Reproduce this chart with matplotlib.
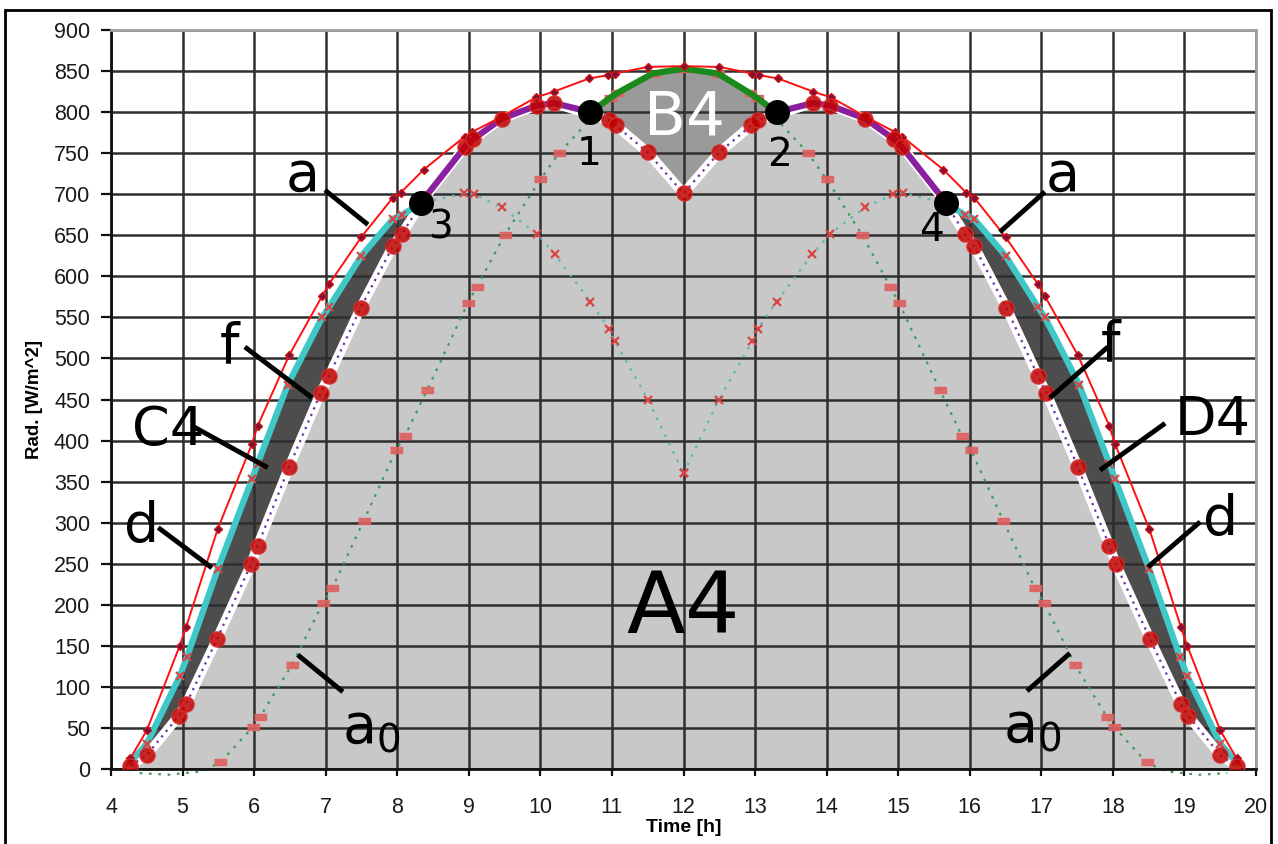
import numpy as np
import matplotlib
matplotlib.use('Agg')
import matplotlib.pyplot as plt
from matplotlib.patches import Rectangle

# ---------------- data ----------------
# outer clear-sky curve "a" (red, diamonds)
t_a = [4.27, 4.5, 4.96, 5.05, 5.49, 5.97, 6.05, 6.49, 6.95, 7.05, 7.5, 7.94, 8.05, 8.37,
       8.94, 9.05, 9.47, 9.94, 10.19, 10.68, 10.95, 11.04, 11.5, 12.0, 12.5, 12.96, 13.05,
       13.32, 13.81, 14.06, 14.53, 14.95, 15.06, 15.63, 15.95, 16.06, 16.5, 16.95, 17.05,
       17.51, 17.95, 18.03, 18.51, 18.95, 19.04, 19.5, 19.73]
rad_a = [13, 47, 150, 173, 292, 396, 418, 504, 576, 591, 648, 696, 702, 730,
         770, 776, 795, 818, 825, 841, 845, 847, 855, 856, 855, 847, 845,
         841, 825, 818, 795, 776, 770, 730, 702, 696, 648, 591, 576,
         504, 418, 396, 292, 173, 150, 47, 13]

# curve "f" (white band, purple dots, big red dots)
t_f = [4.27, 4.5, 4.95, 5.05, 5.48, 5.96, 6.05, 6.49, 6.93, 7.05, 7.49, 7.94, 8.07, 8.37,
       8.94, 9.06, 9.46, 9.95, 10.19, 10.96, 11.05, 11.5, 12.0, 12.5, 12.95, 13.04, 13.81,
       14.05, 14.54, 14.94, 15.06, 15.63, 15.93, 16.06, 16.51, 16.95, 17.07, 17.51, 17.95,
       18.04, 18.52, 18.95, 19.05, 19.5, 19.73]
rad_f = [4, 17, 65, 79, 158, 250, 272, 368, 458, 479, 562, 637, 652, 694,
         757, 767, 792, 808, 811, 790, 784, 751, 701, 751, 784, 790, 811,
         808, 792, 767, 757, 694, 652, 637, 562, 479, 458, 368, 272,
         250, 158, 79, 65, 17, 4]

# east-facing curve (teal dots, red x) and west-facing curve
t_east = [4.27, 4.5, 4.96, 5.06, 5.49, 5.97, 6.05, 6.47, 6.95, 7.05, 7.5, 7.94, 8.07, 8.37,
          8.93, 9.07, 9.46, 9.95, 10.2, 10.7, 10.96, 11.04, 11.51, 12.0]
rad_east = [8, 31, 113, 136, 243, 353, 372, 468, 550, 563, 625, 670, 675, 690,
            701, 700, 684, 652, 627, 569, 536, 521, 449, 360]
t_west = [12.0, 12.49, 12.96, 13.04, 13.3, 13.8, 14.05, 14.54, 14.93, 15.07, 15.63, 15.93,
          16.06, 16.5, 16.95, 17.05, 17.53, 17.95, 18.03, 18.51, 18.94, 19.04, 19.5, 19.73]
rad_west = [360, 449, 521, 536, 569, 627, 652, 684, 700, 701, 690, 675,
            670, 625, 563, 550, 468, 372, 353, 243, 136, 113, 31, 8]

# curve "a0" (green dots, red dashes)
t_a0 = [4.4, 4.8, 5.25, 5.53, 5.98, 6.08, 6.53, 6.96, 7.09, 7.53, 7.98, 8.11, 8.42, 8.99,
        9.11, 9.5, 10.0, 10.26, 10.97, 11.07, 11.57, 12.0, 12.48, 12.93, 13.03, 13.74,
        14.0, 14.5, 14.89, 15.01, 15.58, 15.89, 16.02, 16.47, 16.91, 17.04, 17.47, 17.92,
        18.02, 18.47, 18.75, 19.2, 19.6]
rad_a0 = [-5, -7, -3, 8, 51, 63, 127, 202, 220, 302, 388, 406, 462, 568,
          587, 650, 718, 750, 817, 823, 847, 853, 847, 823, 817, 750,
          718, 650, 587, 568, 462, 406, 388, 302, 220, 202, 127, 63,
          51, 8, -3, -7, -5]

# crossing points 1..4
pt_t = [10.7, 13.3, 8.33, 15.67]
pt_rad = [800, 800, 689, 689]
pt_labels = ['1', '2', '3', '4']

x_ticks = list(range(4, 21))
y_ticks = list(range(0, 901, 50))

# ---------------- figure ----------------
W, H = 1278, 844
fig = plt.figure(figsize=(W / 100, H / 100), dpi=100)
fig.patch.set_facecolor('white')
ax = fig.add_axes([111 / W, 1 - 769 / H, (1256 - 111) / W, (769 - 30) / H])
ax.set_xlim(4, 20)
ax.set_ylim(0, 900)

ta, ra = np.array(t_a), np.array(rad_a)
tf, rf = np.array(t_f), np.array(rad_f)
te, re_ = np.array(t_east), np.array(rad_east)
tw, rw = np.array(t_west), np.array(rad_west)
t0, r0 = np.array(t_a0), np.array(rad_a0)
p1 = (pt_t[0], pt_rad[0]); p2 = (pt_t[1], pt_rad[1])
p3 = (pt_t[2], pt_rad[2]); p4 = (pt_t[3], pt_rad[3])

# A4 : area under f
ax.fill_between(tf, rf, 0, color='#c8c8c8', lw=0, zorder=1)

# C4 : between east curve and f up to point 3
m_e = te < p3[0]; m_fl = tf < p3[0]
cx = list(te[m_e]) + [p3[0]] + list(tf[m_fl][::-1])
cy = list(re_[m_e]) + [p3[1]] + list(rf[m_fl][::-1])
ax.fill(cx, cy, color='#4d4d4d', lw=0, zorder=1.2)
# D4
m_w = tw > p4[0]; m_fr = tf > p4[0]
dx = [p4[0]] + list(tw[m_w]) + list(tf[m_fr][::-1])
dy = [p4[1]] + list(rw[m_w]) + list(rf[m_fr][::-1])
ax.fill(dx, dy, color='#4d4d4d', lw=0, zorder=1.2)
# B4
m_0 = (t0 > p1[0]) & (t0 < p2[0]); m_fb = (tf > p1[0]) & (tf < p2[0])
bx = [p1[0]] + list(t0[m_0]) + [p2[0]] + list(tf[m_fb][::-1])
by = [p1[1]] + list(r0[m_0]) + [p2[1]] + list(rf[m_fb][::-1])
ax.fill(bx, by, color='#9a9a9a', lw=0, zorder=1.2)

# grid
ax.set_axisbelow('line')
ax.set_xticks(x_ticks)
ax.set_yticks(y_ticks)
ax.set_xticklabels([str(v) for v in x_ticks], fontsize=15.5, family='Liberation Sans', color='#1a1a1a')
ax.set_yticklabels([str(v) for v in y_ticks], fontsize=15.5, family='Liberation Sans', color='#1a1a1a')
ax.grid(True, color='#2e2e2e', lw=1.8)

# a0 dotted + dash markers
dash = [(-1, -0.45), (1, -0.45), (1, 0.45), (-1, 0.45)]
ax.plot(t0, r0, ls=(0, (1.2, 3)), color='#3f9a5a', lw=1.6, zorder=2, clip_on=False)
mpos = r0 > 0
ax.plot(t0[mpos], r0[mpos], ls='none', marker=dash, ms=9, color='#e06060', alpha=0.9, zorder=2.1)

# east / west dotted
for tt, rr in ((te, re_), (tw, rw)):
    ax.plot(tt, rr, ls=(0, (1.2, 3)), color='#5fb8b8', lw=1.6, zorder=2)

# f : white band + purple dotted
ax.plot(tf, rf, color='white', lw=7, zorder=2.6, solid_capstyle='round')
ax.plot(tf, rf, ls=(0, (1, 2.2)), color='#7030a0', lw=1.6, zorder=2.7)

# thick cyan (d)
ax.plot(list(te[m_e]) + [p3[0]], list(re_[m_e]) + [p3[1]], color='#40c8c8', lw=4.5, zorder=3)
ax.plot([p4[0]] + list(tw[m_w]), [p4[1]] + list(rw[m_w]), color='#40c8c8', lw=4.5, zorder=3)
# thick purple
m_pl = (tf > p3[0]) & (tf < p1[0]); m_pr = (tf > p2[0]) & (tf < p4[0])
ax.plot([p3[0]] + list(tf[m_pl]) + [p1[0]], [p3[1]] + list(rf[m_pl]) + [p1[1]],
        color='#8a1fa0', lw=4.5, zorder=3)
ax.plot([p2[0]] + list(tf[m_pr]) + [p4[0]], [p2[1]] + list(rf[m_pr]) + [p4[1]],
        color='#8a1fa0', lw=4.5, zorder=3)
# thick green
ax.plot([p1[0]] + list(t0[m_0]) + [p2[0]], [p1[1]] + list(r0[m_0]) + [p2[1]],
        color='#1a8a1a', lw=4.5, zorder=3)

# red x markers on east/west
for tt, rr in ((te, re_), (tw, rw)):
    ax.plot(tt, rr, ls='none', marker='x', ms=6, mew=1.6, color='#d94545', zorder=3.3)

# red "a" curve
ax.plot(ta, ra, color='#ff1010', lw=1.4, marker='D', ms=4.5, mfc='#7a1040',
        mec='#d01010', mew=1.0, zorder=3.5)

# big red dots on f
ax.plot(tf, rf, ls='none', marker='o', ms=11, color='#c00000', mec='#d83030',
        alpha=0.85, zorder=3.6)

# crossing points
ax.plot(pt_t, pt_rad, ls='none', marker='o', ms=17, color='black', zorder=5)

# ---------------- axes styling ----------------
for s in ('left', 'bottom'):
    ax.spines[s].set_color('#111111'); ax.spines[s].set_linewidth(2)
for s in ('top', 'right'):
    ax.spines[s].set_color('#a0a0a0'); ax.spines[s].set_linewidth(2)
ax.tick_params(axis='y', length=7, width=1.6, pad=8, color='#111111')
ax.tick_params(axis='x', length=5, width=1.6, pad=15, color='#111111')
ax.set_xlabel('Time [h]', fontsize=14, fontweight='bold', family='Liberation Sans', labelpad=1)
ax.set_ylabel('Rad. [W/m^2]', fontsize=13.5, fontweight='bold', family='Liberation Sans', labelpad=8)

# ---------------- annotations ----------------
plt.rcParams['mathtext.fontset'] = 'dejavusans'
lab_font = dict(family='DejaVu Sans', ha='center', va='center', zorder=6)
labels = [('a', 6.68, 722, 40), ('a', 17.30, 722, 40), ('f', 5.66, 513, 40),
          ('f', 17.96, 516, 40), ('C4', 4.80, 413, 39), ('D4', 19.39, 425, 39),
          ('d', 4.43, 295, 40), ('d', 19.50, 303, 40),
          (r'a$_0$', 7.64, 50, 40), (r'a$_0$', 16.87, 52, 40)]
for txt, x, y, fs in labels:
    ax.text(x, y, txt, fontsize=fs, color='black', **lab_font)
ax.text(12.0, 194, 'A4', fontsize=62, color='black', **lab_font)
ax.text(12.02, 793, 'B4', fontsize=44, color='white', **lab_font)
pt_lab_pos = [(10.68, 749), (13.34, 748), (8.6, 660), (15.47, 656)]
for (x, y), txt in zip(pt_lab_pos, pt_labels):
    ax.text(x, y, txt, fontsize=28, color='black', **lab_font)

lines = [((6.99, 705), (7.59, 663)), ((17.05, 703), (16.42, 654)),
         ((5.87, 514), (6.81, 452)), ((17.93, 514), (17.12, 452)),
         ((5.15, 417), (6.19, 367)), ((18.73, 421), (17.82, 364)),
         ((4.66, 294), (5.41, 245)), ((19.22, 301), (18.49, 246)),
         ((6.61, 139), (7.24, 94)), ((17.40, 141), (16.80, 95))]
for (x1, y1), (x2, y2) in lines:
    ax.plot([x1, x2], [y1, y2], color='black', lw=3.5, zorder=6, solid_capstyle='butt')

# outer frame
fig.patches.append(Rectangle((5 / W, -0.01), 1266 / W, 1 - 10 / H + 0.01,
                             transform=fig.transFigure, fill=False, lw=2,
                             edgecolor='black'))

fig.savefig('out.png', dpi=100)
